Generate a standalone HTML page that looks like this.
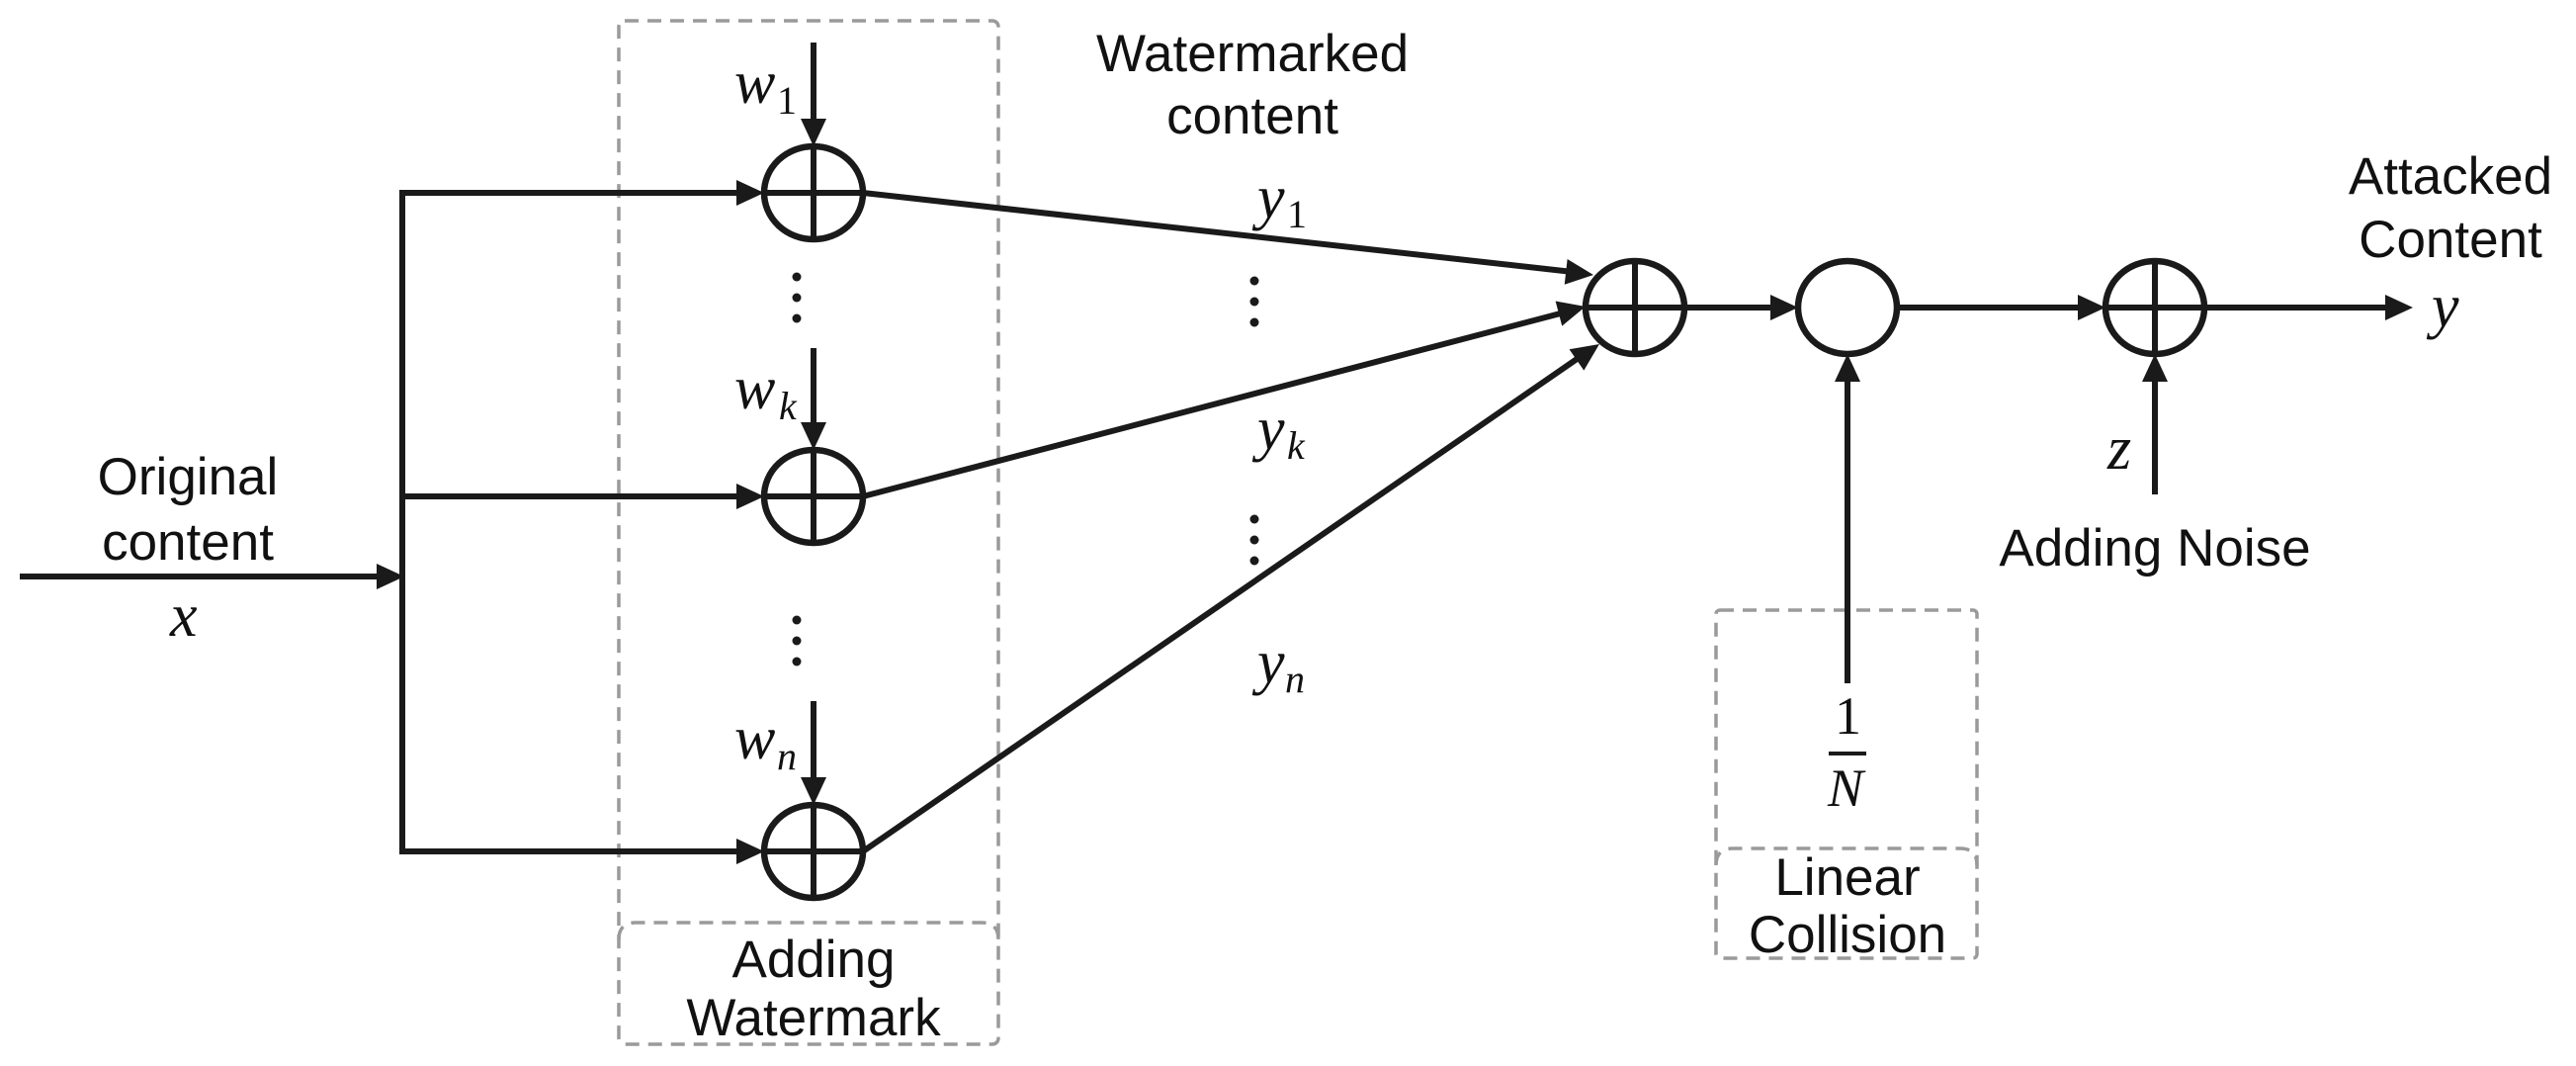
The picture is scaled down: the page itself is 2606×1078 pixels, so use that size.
<!DOCTYPE html>
<html><head><meta charset="utf-8"><style>
html,body{margin:0;padding:0;background:#fff;}
svg{display:block;}
.t{font-family:"Liberation Sans",sans-serif;font-size:53px;fill:#111;text-anchor:middle;}
.m{font-family:"Liberation Serif",serif;font-style:italic;font-size:62px;fill:#111;}
.s{font-family:"Liberation Serif",serif;font-size:40px;fill:#111;}
.si{font-family:"Liberation Serif",serif;font-style:italic;font-size:40px;fill:#111;}
</style></head><body>
<svg width="2606" height="1078" viewBox="0 0 2606 1078" xmlns="http://www.w3.org/2000/svg">
<g stroke="#1a1a1a" stroke-width="6" fill="none">
<g stroke="#9a9a9a" stroke-width="3.5" stroke-dasharray="14,9">
<rect x="626" y="21" width="384" height="1035" rx="6"/>
<path d="M626,950 Q626,933 643,933 L993,933 Q1010,933 1010,950"/>
<rect x="1736" y="617" width="264" height="352" rx="4"/>
<path d="M1736,875 Q1736,858 1753,858 L1983,858 Q2000,858 2000,875"/>
</g>
<line x1="20" y1="583" x2="400" y2="583"/>
<line x1="407" y1="192" x2="407" y2="864"/>
<line x1="404" y1="195" x2="765" y2="195"/>
<line x1="404" y1="502" x2="765" y2="502"/>
<line x1="404" y1="861" x2="765" y2="861"/>
<line x1="823" y1="43" x2="823" y2="140"/>
<line x1="823" y1="352" x2="823" y2="447"/>
<line x1="823" y1="709" x2="823" y2="806"/>
<g stroke-width="6.5">
<ellipse cx="823" cy="195" rx="50" ry="47"/>
<ellipse cx="823" cy="502" rx="50" ry="47"/>
<ellipse cx="823" cy="861" rx="50" ry="47"/>
<ellipse cx="1654" cy="311" rx="50" ry="47"/>
<ellipse cx="1869" cy="311" rx="50" ry="47"/>
<ellipse cx="2180" cy="311" rx="50" ry="47"/>
</g>
<path d="M773,195 H873 M823,148 V242 M773,502 H873 M823,455 V549 M773,861 H873 M823,814 V908"/>
<line x1="873" y1="195" x2="1600" y2="276"/>
<line x1="873" y1="502" x2="1590" y2="314"/>
<line x1="873" y1="861" x2="1604" y2="357"/>
<path d="M1604,311 H1704 M1654,264 V358"/>
<line x1="1704" y1="311" x2="1805" y2="311"/>
<line x1="1919" y1="311" x2="2118" y2="311"/>
<path d="M2130,311 H2230 M2180,264 V358"/>
<line x1="2230" y1="311" x2="2428" y2="311"/>
<line x1="1869" y1="691" x2="1869" y2="370"/>
<line x1="2180" y1="500" x2="2180" y2="370"/>
</g>
<g fill="#1a1a1a">
<path d="M409,583 l-28,-13 v26 z"/>
<path d="M773,195 l-28,-13 v26 z"/>
<path d="M773,502 l-28,-13 v26 z"/>
<path d="M773,861 l-28,-13 v26 z"/>
<path d="M823,148 l-13,-28 h26 z"/>
<path d="M823,455 l-13,-28 h26 z"/>
<path d="M823,814 l-13,-28 h26 z"/>
<path d="M1819,311 l-28,-13 v26 z"/>
<path d="M2130,311 l-28,-13 v26 z"/>
<path d="M2441,311 l-28,-13 v26 z"/>
<path d="M1869,358 l-13,28 h26 z"/>
<path d="M2180,358 l-13,28 h26 z"/>
<g transform="translate(1612,278) rotate(6.4)"><path d="M0,0 l-28,-13 v26 z"/></g>
<g transform="translate(1604,310) rotate(-14.7)"><path d="M0,0 l-28,-13 v26 z"/></g>
<g transform="translate(1618,348) rotate(-34.6)"><path d="M0,0 l-28,-13 v26 z"/></g>
<circle cx="806" cy="280" r="4.5"/><circle cx="806" cy="301" r="4.5"/><circle cx="806" cy="322" r="4.5"/>
<circle cx="806" cy="627" r="4.5"/><circle cx="806" cy="648" r="4.5"/><circle cx="806" cy="669" r="4.5"/>
<circle cx="1269" cy="284" r="4.5"/><circle cx="1269" cy="305" r="4.5"/><circle cx="1269" cy="326" r="4.5"/>
<circle cx="1269" cy="525" r="4.5"/><circle cx="1269" cy="546" r="4.5"/><circle cx="1269" cy="567" r="4.5"/>
<rect x="1850" y="760" width="38" height="4"/>
</g>
<text class="t" x="190" y="500">Original</text>
<text class="t" x="190" y="566">content</text>
<text class="t" x="1267" y="72">Watermarked</text>
<text class="t" x="1267" y="135">content</text>
<text class="t" x="2479" y="196">Attacked</text>
<text class="t" x="2479" y="260">Content</text>
<text class="t" x="2180" y="572">Adding Noise</text>
<text class="t" x="823" y="988">Adding</text>
<text class="t" x="823" y="1047">Watermark</text>
<text class="t" x="1869" y="905">Linear</text>
<text class="t" x="1869" y="963">Collision</text>
<text class="m" x="172" y="643">x</text>
<text class="m" x="2460" y="330">y</text>
<text class="m" x="2132" y="474">z</text>
<text class="s" x="1856" y="742" style="font-size:54px">1</text>
<text class="si" x="1849" y="815" style="font-size:54px">N</text>
<text class="m" x="743" y="104">w</text><text class="s" x="786" y="115">1</text>
<text class="m" x="743" y="413">w</text><text class="si" x="788" y="424">k</text>
<text class="m" x="743" y="767">w</text><text class="si" x="786" y="778">n</text>
<text class="m" x="1272" y="220">y</text><text class="s" x="1302" y="230">1</text>
<text class="m" x="1272" y="454">y</text><text class="si" x="1302" y="464">k</text>
<text class="m" x="1272" y="690">y</text><text class="si" x="1300" y="700">n</text>
</svg>
</body></html>
